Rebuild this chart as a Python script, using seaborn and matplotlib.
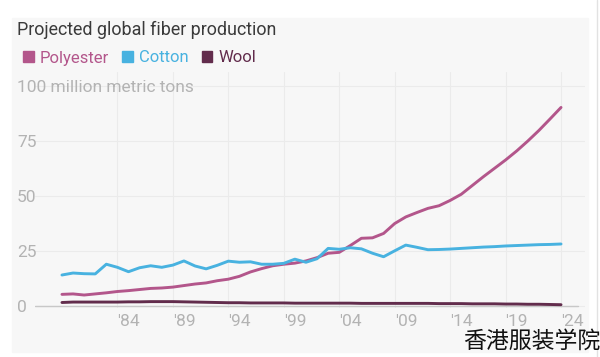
import numpy as np
import pandas as pd
import matplotlib
matplotlib.use("Agg")
import matplotlib.pyplot as plt
import seaborn as sns
from matplotlib.patches import Rectangle, Patch
from matplotlib.lines import Line2D

years = list(range(1979, 2025))

polyester = [5.3, 5.5, 5.0, 5.5, 6.0, 6.6, 7.0, 7.5, 8.0, 8.2,
             8.6, 9.3, 10.0, 10.5, 11.5, 12.2, 13.5, 15.5, 17.0, 18.3,
             19.0, 19.5, 20.5, 22.0, 24.0, 24.4, 27.5, 30.8, 31.0, 33.0,
             37.5, 40.5, 42.5, 44.4, 45.6, 48.0, 50.8, 54.8, 58.8, 62.6,
             66.4, 70.5, 75.0, 79.8, 85.0, 90.3]
cotton = [14.1, 15.0, 14.7, 14.6, 19.0, 17.6, 15.6, 17.4, 18.3, 17.6,
          18.6, 20.5, 18.2, 16.9, 18.5, 20.4, 19.9, 20.1, 19.0, 19.0,
          19.4, 21.3, 19.9, 21.5, 26.2, 25.8, 26.5, 26.0, 24.0, 22.4,
          25.1, 27.7, 26.7, 25.6, 25.7, 25.9, 26.2, 26.5, 26.8, 27.0,
          27.3, 27.5, 27.7, 27.9, 28.0, 28.2]
wool = [1.6, 1.8, 1.8, 1.8, 1.8, 1.8, 1.9, 1.9, 2.0, 2.0,
        2.0, 1.9, 1.8, 1.7, 1.6, 1.5, 1.5, 1.4, 1.4, 1.4,
        1.4, 1.3, 1.3, 1.3, 1.3, 1.3, 1.3, 1.2, 1.2, 1.2,
        1.2, 1.2, 1.2, 1.2, 1.1, 1.1, 1.1, 1.0, 1.0, 1.0,
        0.9, 0.9, 0.8, 0.8, 0.7, 0.6]

series = ["Polyester", "Cotton", "Wool"]
colors = {"Polyester": "#b3568b", "Cotton": "#48b2e0", "Wool": "#622c4c"}
x_ticks = list(range(1984, 2025, 5))
x_labels = ["'" + str(y)[2:] for y in x_ticks]
y_ticks = [0, 25, 50, 75, 100]
y_labels = ["0", "25", "50", "75", "100 million metric tons"]

df = pd.DataFrame({"year": years * 3,
                   "value": polyester + cotton + wool,
                   "fiber": np.repeat(series, len(years))})

sns.set_style("white")
plt.rcParams["font.family"] = ["Roboto", "DejaVu Sans"]

W, H = 600, 357
fig = plt.figure(figsize=(6, 3.57), dpi=100, facecolor="white")
fig.patches.append(Rectangle((12 / W, 1 - 352 / H), 576 / W, 334 / H,
                             transform=fig.transFigure, color="#f7f7f7", zorder=-10))
fig.add_artist(Line2D([597 / W, 597 / W], [0, 1], transform=fig.transFigure,
                      color="#e2e2e2", lw=1))

ax = fig.add_axes([35 / W, 1 - 308 / H, 550 / W, 236 / H])
ax.set_facecolor("none")

sns.lineplot(data=df, x="year", y="value", hue="fiber", palette=colors,
             linewidth=2.1, legend=False, ax=ax, zorder=3)

ax.set_xlim(1976.57, 2026.16)
ax.set_ylim(-0.9, 106.4)
for s in ax.spines.values():
    s.set_visible(False)

ax.set_xticks(x_ticks)
ax.set_xticklabels(x_labels, ha="left")
ax.set_yticks(y_ticks)
ax.set_yticklabels(y_labels, ha="left")
ax.tick_params(axis="x", length=0, pad=4, labelsize=12.5, labelcolor="#b3b3b3")
ax.tick_params(axis="y", length=0, pad=13, labelsize=12.5, labelcolor="#b3b3b3")
ax.set_xlabel("")
ax.set_ylabel("")
ax.grid(True, color="#ebebeb", lw=0.8)
ax.axhline(0, xmax=543 / 550, color="#c8c8c8", lw=1, zorder=2)

fig.text(17 / W, 1 - 30 / H, "Projected global fiber production",
         fontsize=12.9, color="#3a3a3a", va="center", ha="left")

handles = [Patch(color=colors[s], label=s) for s in series]
leg = fig.legend(handles=handles, loc="center left", ncol=3,
                 bbox_to_anchor=(11 / W, 1 - 58 / H), frameon=False,
                 handlelength=0.65, handleheight=0.65, handletextpad=0.35,
                 columnspacing=0.8, fontsize=12, borderpad=0.2)
for t, s in zip(leg.get_texts(), series):
    t.set_color(colors[s])

fig.text(532 / W, 1 - 341 / H, "香港服装学院", fontsize=16.5, color="#111111",
         ha="center", va="center", family=["Noto Sans CJK SC", "DejaVu Sans"])

fig.savefig("out.png", dpi=100, facecolor="white")
